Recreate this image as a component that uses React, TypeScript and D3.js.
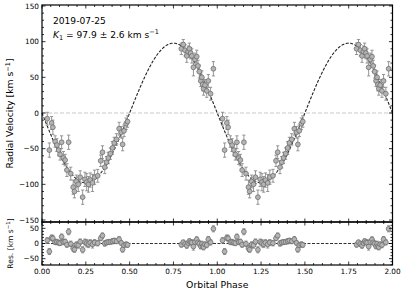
import React, { useEffect, useRef } from 'react'
import * as d3 from 'd3'

// folded data: orbital phase, radial velocity, error (km/s)
const phases = [
  0.030, 0.042, 0.055, 0.062, 0.075, 0.085, 0.095, 0.103, 0.112, 0.122, 0.132, 0.142,
  0.152, 0.164, 0.178, 0.185, 0.196, 0.207, 0.218, 0.232, 0.245, 0.255, 0.265, 0.275,
  0.288, 0.300, 0.318, 0.335, 0.345, 0.358, 0.368, 0.378, 0.390, 0.402, 0.412, 0.425,
  0.440, 0.452, 0.460, 0.468, 0.480, 0.488,
  0.795, 0.806, 0.816, 0.826, 0.834, 0.841, 0.848, 0.855, 0.864, 0.873, 0.883, 0.890,
  0.898, 0.906, 0.912, 0.917, 0.922, 0.930, 0.940, 0.949, 0.962, 0.978
]
const velocities = [
  -8, -52, -14, -20, -40, -45, -52, -58, -41, -63, -66, -80,
  -41, -85, -104, -110, -96, -100, -90, -118, -93, -97, -100, -94,
  -98, -90, -88, -67, -55, -76, -69, -63, -57, -49, -42, -37,
  -22, -27, -44, -25, -15, -12,
  90, 96, 88, 80, 86, 90, 84, 80, 64, 75, 79, 66,
  58, 45, 50, 40, 34, 39, 31, 45, 27, 62
]
const errors = [
  9, 10, 9, 10, 8, 9, 8, 8, 9, 9, 8, 9,
  10, 9, 10, 9, 9, 10, 9, 10, 10, 12, 11, 10,
  12, 10, 9, 8, 9, 9, 8, 8, 8, 9, 8, 8,
  9, 8, 9, 8, 8, 8,
  8, 7, 8, 9, 8, 8, 8, 10, 12, 9, 9, 8,
  9, 8, 9, 9, 9, 8, 9, 9, 9, 10
]

// circular orbit fit
const K1 = 97.9
const gamma = 0

const xTicks = [0, 0.25, 0.5, 0.75, 1, 1.25, 1.5, 1.75, 2]
const yTicks = [-150, -100, -50, 0, 50, 100, 150]
const resTicks = [-50, 0, 50]

const model = (p: number) => gamma - K1 * Math.sin(2 * Math.PI * p)

const App = () => {
  const ref = useRef<SVGSVGElement>(null)

  useEffect(() => {
    const svg = d3.select(ref.current)
    svg.selectAll('*').remove()

    const left = 42, right = 392.5, top = 5, mid = 222, bottom = 265
    const font = 'DejaVu Sans, sans-serif'

    const x = d3.scaleLinear().domain([0, 2]).range([left, right])
    const y = d3.scaleLinear().domain([-152.8, 151.4]).range([mid, top])
    const yr = d3.scaleLinear().domain([-71, 71]).range([bottom, mid])

    // two cycles of the same folded data
    const pts = phases.flatMap((p, i) => [0, 1].map(c => ({
      p: p + c, v: velocities[i], e: errors[i], r: velocities[i] - model(p)
    })))

    // zero lines
    svg.append('line').attr('x1', left).attr('x2', right).attr('y1', y(0)).attr('y2', y(0))
      .attr('stroke', '#c8c8c8').attr('stroke-width', 1).attr('stroke-dasharray', '4,2')
    svg.append('line').attr('x1', left).attr('x2', right).attr('y1', yr(0)).attr('y2', yr(0))
      .attr('stroke', '#333').attr('stroke-width', 1).attr('stroke-dasharray', '3,1.5')

    // model curve
    const curve = d3.range(0, 2.0001, 0.005)
    svg.append('path')
      .datum(curve)
      .attr('fill', 'none')
      .attr('stroke', '#222')
      .attr('stroke-width', 1.1)
      .attr('stroke-dasharray', '3,1.5')
      .attr('d', d3.line<number>().x(d => x(d)).y(d => y(model(d))))

    // points with error bars, main and residual panels
    const drawPoints = (yScale: d3.ScaleLinear<number, number>, key: 'v' | 'r') => {
      const g = svg.append('g')
      pts.forEach(d => {
        const cx = x(d.p)
        const y1 = yScale(d[key] + d.e), y2 = yScale(d[key] - d.e)
        g.append('line').attr('x1', cx).attr('x2', cx).attr('y1', y1).attr('y2', y2)
          .attr('stroke', '#8a8a8a').attr('stroke-width', 0.9)
        ;[y1, y2].forEach(yy => g.append('line').attr('x1', cx - 1.6).attr('x2', cx + 1.6)
          .attr('y1', yy).attr('y2', yy).attr('stroke', '#8a8a8a').attr('stroke-width', 0.9))
      })
      pts.forEach(d => {
        g.append('circle').attr('cx', x(d.p)).attr('cy', yScale(d[key])).attr('r', 2.4)
          .attr('fill', '#b4b4b4').attr('stroke', '#6e6e6e').attr('stroke-width', 0.8)
      })
    }
    drawPoints(y, 'v')
    drawPoints(yr, 'r')

    // frames
    svg.append('rect').attr('x', left).attr('y', top).attr('width', right - left).attr('height', mid - top)
      .attr('fill', 'none').attr('stroke', '#000').attr('stroke-width', 1.2)
    svg.append('rect').attr('x', left).attr('y', mid).attr('width', right - left).attr('height', bottom - mid)
      .attr('fill', 'none').attr('stroke', '#000').attr('stroke-width', 1.2)

    // inward ticks on every side
    const tick = (x1: number, y1: number, x2: number, y2: number) =>
      svg.append('line').attr('x1', x1).attr('y1', y1).attr('x2', x2).attr('y2', y2)
        .attr('stroke', '#000').attr('stroke-width', 0.8)

    d3.range(0, 2.0001, 0.05).forEach(t => {
      const major = Math.abs(t / 0.25 - Math.round(t / 0.25)) < 1e-6
      const len = major ? 3.5 : 2
      const xx = x(t)
      tick(xx, top, xx, top + len)
      tick(xx, mid, xx, mid - len)
      tick(xx, mid, xx, mid + len)
      tick(xx, bottom, xx, bottom - len)
    })
    d3.range(-150, 151, 10).forEach(t => {
      const len = t % 50 === 0 ? 3.5 : 2
      tick(left, y(t), left + len, y(t))
      tick(right, y(t), right - len, y(t))
    })
    d3.range(-70, 71, 10).forEach(t => {
      const len = t % 50 === 0 ? 3.5 : 2
      tick(left, yr(t), left + len, yr(t))
      tick(right, yr(t), right - len, yr(t))
    })

    // tick labels
    svg.selectAll('.xl').data(xTicks).enter().append('text')
      .attr('x', d => x(d)).attr('y', 274).attr('text-anchor', 'middle')
      .style('font-family', font).style('font-size', '7.3px').text(d => d3.format('.2f')(d))
    svg.selectAll('.yl').data(yTicks).enter().append('text')
      .attr('x', left - 3).attr('y', d => y(d) + 2.6).attr('text-anchor', 'end')
      .style('font-family', font).style('font-size', '7.3px').text(d => d3.format('d')(d))
    svg.selectAll('.rl').data(resTicks).enter().append('text')
      .attr('x', left - 3).attr('y', d => yr(d) + 2.6).attr('text-anchor', 'end')
      .style('font-family', font).style('font-size', '7.3px').text(d => d3.format('d')(d))

    // axis labels
    svg.append('text').attr('x', (left + right) / 2).attr('y', 287.5).attr('text-anchor', 'middle')
      .style('font-family', font).style('font-size', '9.3px').text('Orbital Phase')

    const yl = svg.append('text').attr('transform', `translate(13,${(top + mid) / 2}) rotate(-90)`)
      .attr('text-anchor', 'middle').style('font-family', font).style('font-size', '9.3px')
    yl.append('tspan').text('Radial Velocity [km s')
    yl.append('tspan').attr('dy', -3.5).style('font-size', '6.5px').text('−1')
    yl.append('tspan').attr('dy', 3.5).text(']')

    const rl = svg.append('text').attr('transform', `translate(13,${(mid + bottom) / 2}) rotate(-90)`)
      .attr('text-anchor', 'middle').style('font-family', font).style('font-size', '7.6px')
    rl.append('tspan').text('Res. [km s')
    rl.append('tspan').attr('dy', -3).style('font-size', '5.4px').text('−1')
    rl.append('tspan').attr('dy', 3).text(']')

    // annotations
    svg.append('text').attr('x', 53).attr('y', 23.5)
      .style('font-family', font).style('font-size', '9.1px').text('2019-07-25')
    const k = svg.append('text').attr('x', 53).attr('y', 37.5)
      .style('font-family', font).style('font-size', '9.1px')
    k.append('tspan').style('font-style', 'italic').text('K')
    k.append('tspan').attr('dy', 2).style('font-size', '6.5px').text('1')
    k.append('tspan').attr('dy', -2).text(' = 97.9 ± 2.6 km s')
    k.append('tspan').attr('dy', -3.5).style('font-size', '6.5px').text('−1')
  }, [])

  return (
    <svg ref={ref} width={407} height={294}
      style={{ position: 'absolute', left: 0, top: 0, display: 'block', background: '#fff' }} />
  )
}

export default App
